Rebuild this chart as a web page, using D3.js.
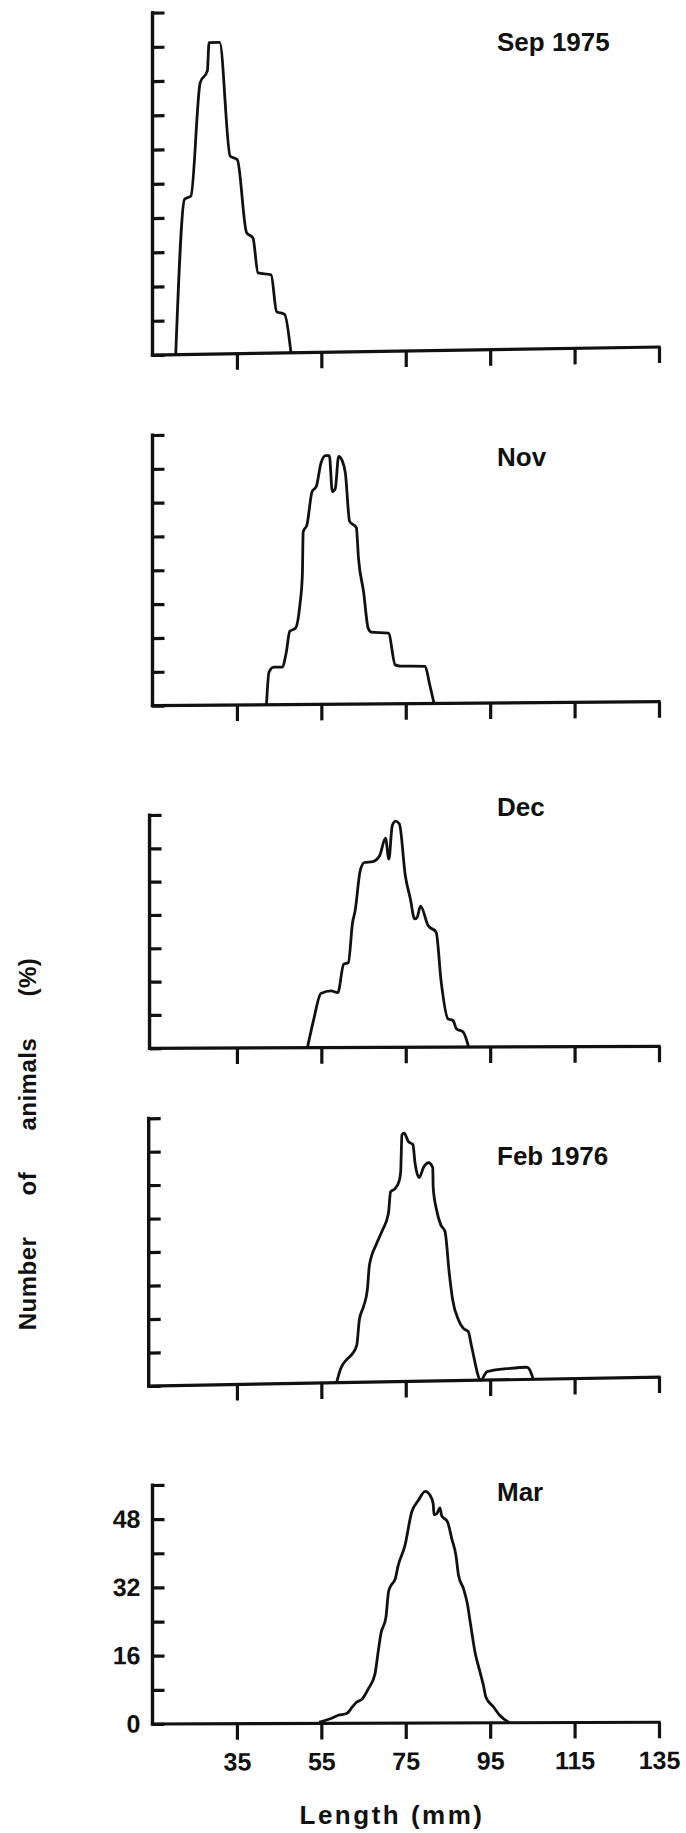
<!DOCTYPE html>
<html>
<head>
<meta charset="utf-8">
<script src="https://cdn.jsdelivr.net/npm/d3@7"></script>
<style>
  html, body { margin: 0; padding: 0; background: #fff; }
  svg { display: block; }
  text { font-family: "Liberation Sans", Arial, Helvetica, sans-serif; font-weight: bold; fill: #111; }
</style>
</head>
<body>
<svg id="chart" width="686" height="1833"></svg>
<script>
// Length-frequency curves: [length (mm), animals (%)]
const sep1975 = [[20.5,0],[22.6,36.3],[24.1,37],[26.3,63.5],[28.0,66.2],[28.4,72.8],[30.9,72.8],[33.4,46.2],[35.1,45.3],[37.3,28.2],[38.8,27],[40.0,18.8],[43.1,18.3],[44.4,9.7],[46.3,9.0],[47.8,0]];
const nov1975 = [[42.0,0],[42.6,7.7],[43.7,8.9],[45.7,8.9],[46.7,12.4],[47.5,17.3],[48.9,18.1],[49.9,23.4],[50.5,30.5],[50.7,40.8],[51.6,42.5],[52.8,50.3],[53.8,51.5],[54.9,57.0],[56.0,58.8],[56.9,58.8],[57.6,50.3],[58.3,51.0],[59.1,58.6],[59.9,57.7],[60.7,54.6],[61.7,43.2],[63.3,41.7],[63.8,34.5],[65.0,26.6],[66.1,17.9],[66.8,17.0],[70.9,16.7],[72.5,9.2],[73.7,8.9],[79.6,8.8],[80.6,4.8],[81.7,0]];
const dec1975 = [[51.7,0],[53.2,6.8],[54.9,13.0],[57.3,13.6],[58.9,13.2],[60.3,20.0],[61.4,20.4],[62.4,30.0],[63.0,32.8],[64.2,42.4],[65.2,44.4],[67.2,44.6],[68.8,46.0],[70.2,50.2],[71.0,45.2],[71.8,53.2],[72.6,54.3],[73.5,53.6],[74.9,41.2],[76.1,35.6],[77.1,30.8],[77.7,31.2],[78.5,33.9],[80.3,29.2],[82.2,27.6],[83.4,15.6],[85.0,6.8],[86.2,6.4],[87.0,4.4],[88.6,3.6],[89.9,0]];
const feb1976 = [[58.6,0],[59.6,3.4],[61.0,5.5],[62.4,6.9],[63.4,8.9],[64.0,14.9],[65.0,18.1],[65.9,22.1],[66.4,28.0],[68.1,33.1],[69.5,36.3],[70.9,40.3],[71.4,45.4],[72.5,46.2],[73.5,48.2],[73.8,50.2],[74.1,59.0],[74.6,59.4],[75.6,57.4],[76.7,56.6],[77.2,52.2],[78.2,48.7],[79.2,51.1],[80.4,52.2],[81.4,51.0],[81.5,46.3],[82.3,40.9],[83.3,37.3],[84.3,35.7],[85.3,25.8],[86.1,19.4],[87.5,14.5],[88.6,12.5],[89.8,11.7],[90.6,8.1],[92.8,0],[94.2,2.0],[95.1,2.2],[99.7,2.7],[103.7,2.9],[104.3,2.4],[105.2,0]];
const mar1976 = [[54.5,0.3],[57.1,1.1],[59.0,1.9],[61.0,2.3],[62.4,3.9],[63.4,5.0],[64.6,5.6],[66.1,8.0],[67.7,11.5],[68.5,17.0],[69.1,20.9],[70.3,24.8],[70.9,30.7],[71.4,32.1],[72.5,33.8],[73.2,36.9],[74.8,41.6],[76.4,49.4],[78.0,52.2],[79.6,54.3],[80.8,53.3],[81.5,51.4],[81.7,48.8],[82.3,49.0],[83.1,50.4],[83.5,48.6],[84.9,47.1],[85.9,43.2],[86.9,39.2],[87.5,34.6],[88.7,31.4],[89.6,27.9],[90.4,22.8],[91.4,16.6],[92.6,11.9],[93.4,8.8],[94.0,6.0],[95.8,3.7],[97.3,1.7],[99.6,0]];

const monthTitles = ["Sep 1975", "Nov", "Dec", "Feb 1976", "Mar"];
const yMaxima = [80, 64, 56, 64, 56];
const lengthTicks = [35, 55, 75, 95, 115, 135];
const percentLabels = [0, 16, 32, 48];
const percentStep = 8;

// Panel geometry (pixels): top of y axis, baseline, y-axis position (mm), baseline tilt (deg), title baseline
const panelLayout = [
  { top: 12.7,  base: 355,    axisMm: 15.0, tilt: -0.9,  titleY: 51 },
  { top: 435,   base: 705.7,  axisMm: 15.0, tilt: -0.45, titleY: 466 },
  { top: 815,   base: 1048.3, axisMm: 14.3, tilt: -0.22, titleY: 816 },
  { top: 1118.3,base: 1386,   axisMm: 14.1, tilt: -1.0,  titleY: 1165 },
  { top: 1485,  base: 1724,   axisMm: 15.0, tilt: -0.2,  titleY: 1501 }
];
const seriesList = [sep1975, nov1975, dec1975, feb1976, mar1976];

const svg = d3.select("#chart");
const x = d3.scaleLinear().domain([15, 135]).range([152.5, 659]);

seriesList.forEach((series, i) => {
  const L = panelLayout[i];
  const y = d3.scaleLinear().domain([0, yMaxima[i]]).range([L.base, L.top]);
  const x0 = x(L.axisMm);
  const g = svg.append("g")
    .attr("transform", `translate(${x0},${L.base}) skewY(${L.tilt}) translate(${-x0},${-L.base})`);

  // y axis: inward ticks every 8 %
  const yAxis = d3.axisRight(y)
    .tickValues(d3.range(0, yMaxima[i] + 0.1, percentStep))
    .tickSize(12).tickSizeOuter(0).tickFormat("");
  const ya = g.append("g").attr("transform", `translate(${x0},0)`).call(yAxis);
  ya.select(".domain").remove();
  ya.selectAll(".tick line").attr("stroke", "#111").attr("stroke-width", 3.2);
  g.append("line")
    .attr("x1", x0).attr("x2", x0).attr("y1", y(0) + 1.6).attr("y2", y(yMaxima[i]) - 1.6)
    .attr("stroke", "#111").attr("stroke-width", 3.4);

  // x axis: outward ticks
  const xAxis = d3.axisBottom(x).tickValues(lengthTicks).tickSize(16).tickSizeOuter(0)
    .tickPadding(13).tickFormat(i === seriesList.length - 1 ? d3.format("d") : "");
  const xa = g.append("g").attr("transform", `translate(0,${L.base})`).call(xAxis);
  xa.select(".domain").remove();
  xa.selectAll(".tick line").attr("stroke", "#111").attr("stroke-width", 3.2);
  xa.selectAll(".tick text").attr("font-size", 25).attr("font-family", null).attr("fill", "#111");
  g.append("line")
    .attr("x1", x0 - 1.6).attr("x2", x(135) + 1.6).attr("y1", y(0)).attr("y2", y(0))
    .attr("stroke", "#111").attr("stroke-width", 3.2);

  if (i === seriesList.length - 1) {
    const yl = g.append("g").attr("transform", `translate(${x0},0)`)
      .call(d3.axisLeft(y).tickValues(percentLabels).tickSize(0).tickPadding(12).tickFormat(d3.format("d")));
    yl.select(".domain").remove();
    yl.selectAll(".tick text").attr("font-size", 25).attr("font-family", null).attr("fill", "#111");
  }

  // frequency curve
  const line = d3.line().x(d => x(d[0])).y(d => y(d[1])).curve(d3.curveMonotoneX);
  g.append("path").datum(series)
    .attr("d", line).attr("fill", "none").attr("stroke", "#111")
    .attr("stroke-width", 2.8).attr("stroke-linejoin", "round");

  svg.append("text").attr("x", 497).attr("y", L.titleY)
    .attr("font-size", 26).text(monthTitles[i]);
});

// axis titles
svg.append("text").attr("x", 392).attr("y", 1824).attr("text-anchor", "middle")
  .attr("font-size", 26).attr("letter-spacing", 2.5).text("Length (mm)");
svg.append("text").attr("transform", "translate(36,1144) rotate(-90)")
  .attr("text-anchor", "middle").attr("font-size", 24).attr("letter-spacing", 0.5).attr("word-spacing", 34)
  .text("Number of animals (%)");
</script>
</body>
</html>
